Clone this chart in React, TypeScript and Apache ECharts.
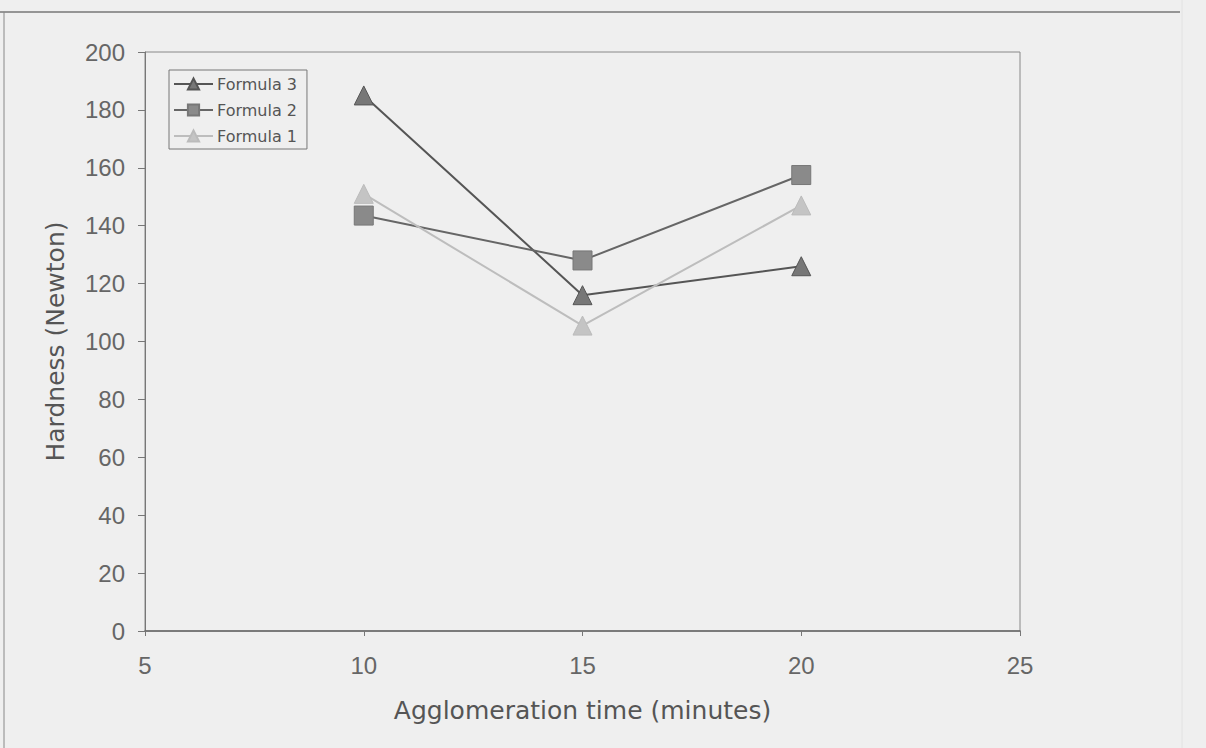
import React, { useEffect, useRef } from "react";
import * as echarts from "echarts";

const xValues = [10, 15, 20];
const formula3 = [185, 116, 126];
const formula2 = [143.5, 128, 157.5];
const formula1 = [151, 105.5, 147];
const seriesNames = ["Formula 3", "Formula 2", "Formula 1"];

export default function App() {
  const ref = useRef<HTMLDivElement>(null);
  useEffect(() => {
    const chart = echarts.init(ref.current!, null, { renderer: "svg" });
    const mk = (arr: number[]) => xValues.map((x, i) => [x, arr[i]]);
    chart.setOption({
      animation: false,
      backgroundColor: "#efefef",
      textStyle: { fontFamily: "Liberation Sans, Arial, sans-serif" },
      graphic: [
        { type: "line", shape: { x1: 0, y1: 12, x2: 1180, y2: 12 }, style: { stroke: "#777", lineWidth: 1.5 } },
        { type: "line", shape: { x1: 4, y1: 12, x2: 4, y2: 748 }, style: { stroke: "#888", lineWidth: 1 } },
        { type: "line", shape: { x1: 1182, y1: 0, x2: 1182, y2: 748 }, style: { stroke: "#e2e2e2", lineWidth: 1 } },
      ],
      grid: {
        left: 145,
        top: 52,
        width: 875,
        height: 579,
        show: true,
        borderColor: "#888",
        borderWidth: 1,
        backgroundColor: "transparent",
      },
      legend: {
        left: 169,
        top: 70,
        orient: "vertical",
        itemGap: 10,
        itemWidth: 39,
        itemHeight: 14,
        borderColor: "#777",
        borderWidth: 1,
        padding: [6, 10, 5, 4],
        textStyle: { fontSize: 16, color: "#555", fontFamily: "DejaVu Sans, sans-serif", padding: [0, 0, 0, -1] },
        data: seriesNames,
      },
      xAxis: {
        type: "value",
        min: 5,
        max: 25,
        interval: 5,
        axisLine: { show: true, lineStyle: { color: "#666", width: 1.5 } },
        axisTick: { show: true, inside: false, length: 5, lineStyle: { color: "#777" } },
        axisLabel: { fontSize: 24, color: "#666", margin: 22 },
        splitLine: { show: false },
        name: "Agglomeration time (minutes)",
        nameLocation: "middle",
        nameGap: 67,
        nameTextStyle: { fontSize: 25, color: "#555", fontFamily: "DejaVu Sans, sans-serif" },
      },
      yAxis: {
        type: "value",
        min: 0,
        max: 200,
        interval: 20,
        axisLine: { show: true, lineStyle: { color: "#777" } },
        axisTick: { show: true, inside: false, length: 7, lineStyle: { color: "#777" } },
        axisLabel: { fontSize: 24, color: "#666", margin: 20 },
        splitLine: { show: false },
        name: "Hardness (Newton)",
        nameLocation: "middle",
        nameGap: 77,
        nameTextStyle: { fontSize: 25, color: "#555", fontFamily: "DejaVu Sans, sans-serif" },
      },
      series: [
        {
          name: seriesNames[0],
          type: "line",
          data: mk(formula3),
          symbol: "triangle",
          symbolSize: 19,
          lineStyle: { color: "#555", width: 2 },
          itemStyle: { color: "#777", borderColor: "#555", borderWidth: 1 },
        },
        {
          name: seriesNames[1],
          type: "line",
          data: mk(formula2),
          symbol: "rect",
          symbolSize: 19,
          lineStyle: { color: "#666", width: 2 },
          itemStyle: { color: "#8a8a8a", borderColor: "#777", borderWidth: 1 },
        },
        {
          name: seriesNames[2],
          type: "line",
          data: mk(formula1),
          symbol: "triangle",
          symbolSize: 19,
          lineStyle: { color: "#bdbdbd", width: 2 },
          itemStyle: { color: "#c4c4c4", borderColor: "#bbb", borderWidth: 1 },
        },
      ],
    });
    return () => chart.dispose();
  }, []);
  return (
    <div
      ref={ref}
      style={{ position: "absolute", left: 0, top: 0, width: 1206, height: 748 }}
    />
  );
}
